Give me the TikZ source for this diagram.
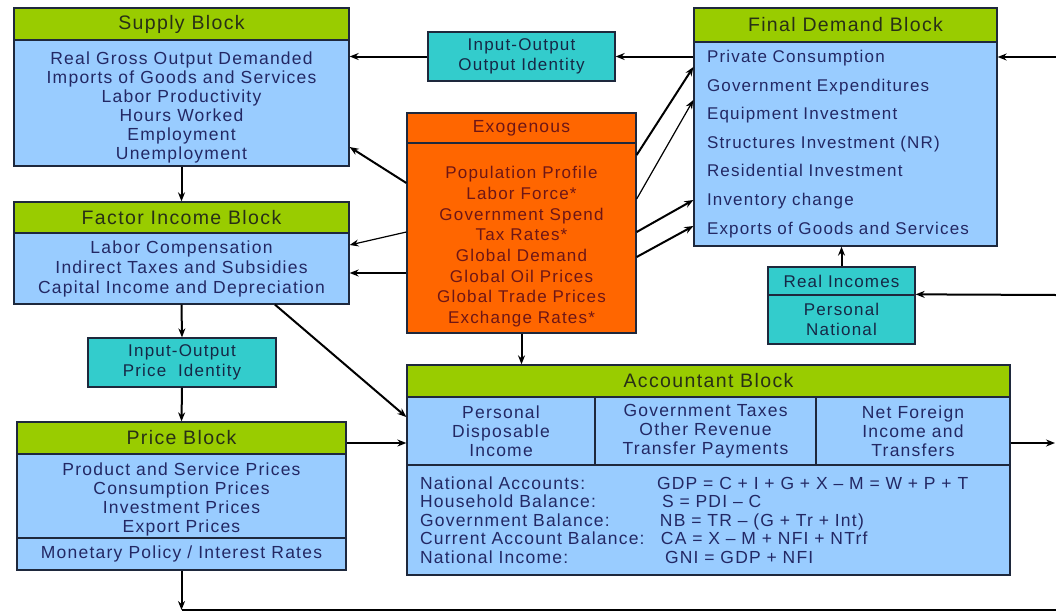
\documentclass[tikz,border=0pt]{standalone}
\usepackage{fontspec}
\setmainfont[LetterSpace=7]{Liberation Sans}
\usetikzlibrary{arrows.meta,calc}
\definecolor{blk_green}{RGB}{153,204,0}
\definecolor{blk_blue}{RGB}{153,204,255}
\definecolor{blk_teal}{RGB}{51,204,204}
\definecolor{blk_orange}{RGB}{255,102,0}
\definecolor{txt_blue}{RGB}{35,40,100}
\definecolor{txt_green}{RGB}{40,48,22}
\definecolor{txt_teal}{RGB}{22,40,70}
\definecolor{txt_red}{RGB}{110,22,22}
\definecolor{blk_edge}{RGB}{30,40,60}
\tikzstyle{box}=[rectangle,draw=blk_edge,line width=1.3pt,inner sep=0pt,align=center]
\tikzstyle{hd}=[box,fill=blk_green,text=txt_green,font=\fontsize{19.5}{21}\selectfont]
\tikzstyle{bd}=[box,fill=blk_blue,text=txt_blue,font=\fontsize{17.5}{19}\selectfont]
\tikzstyle{io}=[box,fill=blk_teal,text=txt_teal,font=\fontsize{17}{19.5}\selectfont]
\tikzstyle{ex}=[box,fill=blk_orange,text=txt_red,font=\fontsize{17}{20.7}\selectfont]
\tikzstyle{arr}=[-{Stealth[length=9pt,width=7pt]},line width=2pt,black]
\tikzstyle{tarr}=[arr,line width=1.2pt]

\begin{document}
\begin{tikzpicture}[x=1pt,y=-1pt]
            \useasboundingbox (0,0) rectangle (1056,613);
            % left column
            \node [style=hd, minimum width=335pt, minimum height=32pt] (suph) at (181.5, 24) {Supply Block};
            \node [style=bd, minimum width=335pt, minimum height=126pt] (supb) at (181.5, 103) {\rule{0pt}{21pt}Real Gross Output Demanded\\Imports of Goods and Services\\Labor Productivity\\Hours Worked\\Employment\\Unemployment};
            \node [style=hd, minimum width=335pt, minimum height=31pt] (fach) at (181.5, 217.5) {Factor Income Block};
            \node [style=bd, minimum width=335pt, minimum height=71pt, font=\fontsize{17.5}{20}\selectfont] (facb) at (181.5, 268.5) {Labor Compensation\\Indirect Taxes and Subsidies\\Capital Income and Depreciation};
            \node [style=io, minimum width=188pt, minimum height=49pt] (iop) at (182, 362.5) {Input-Output\\Price\ \ Identity};
            \node [style=hd, minimum width=329pt, minimum height=32pt] (prih) at (181.5, 438) {Price Block};
            \node [style=bd, minimum width=329pt, minimum height=84pt] (prib) at (181.5, 496) {\rule{0pt}{19pt}Product and Service Prices\\Consumption Prices\\Investment Prices\\Export Prices};
            \node [style=bd, minimum width=329pt, minimum height=32pt] (prim) at (181.5, 554) {Monetary Policy / Interest Rates};
            % middle column
            \node [style=io, minimum width=187pt, minimum height=49pt] (ioo) at (521.5, 56.5) {Input-Output\\Output Identity};
            \node [style=ex, minimum width=229pt, minimum height=30pt, font=\fontsize{17.5}{20}\selectfont] (exoh) at (521.5, 128) {Exogenous};
            \node [style=ex, minimum width=229pt, minimum height=190pt] (exob) at (521.5, 238) {\rule{0pt}{30pt}Population Profile\\Labor Force*\\Government Spend\\Tax Rates*\\Global Demand\\Global Oil Prices\\Global Trade Prices\\Exchange Rates*};
            % right column
            \node [style=hd, minimum width=303pt, minimum height=34pt] (fdh) at (845.5, 25) {Final Demand Block};
            \node [style=bd, inner xsep=13pt, text width=277pt, minimum height=204pt, align=left, font=\fontsize{17}{28.6}\selectfont] (fdb) at (845.5, 144) {Private Consumption\\Government Expenditures\\Equipment Investment\\Structures Investment (NR)\\Residential Investment\\Inventory change\\Exports of Goods and Services};
            \node [style=io, minimum width=147pt, minimum height=28pt] (rih) at (841.5, 281) {Real Incomes};
            \node [style=io, minimum width=147pt, minimum height=49pt] (rib) at (841.5, 319.5) {Personal\\National};
            % accountant block
            \node [style=hd, minimum width=603pt, minimum height=32pt] (acch) at (708.5, 381) {Accountant Block};
            \node [style=bd, minimum width=188pt, minimum height=68pt] (acc1) at (501, 431) {Personal\\Disposable\\Income};
            \node [style=bd, minimum width=221pt, minimum height=68pt] (acc2) at (705.5, 431) {Government Taxes\\Other Revenue\\Transfer Payments};
            \node [style=bd, minimum width=194pt, minimum height=68pt] (acc3) at (913, 431) {Net Foreign\\Income and\\Transfers};
            \node [style=bd, inner xsep=13pt, text width=577pt, minimum height=110pt, align=left, font=\fontsize{17.5}{18.5}\selectfont] (accb) at (708.5, 520) {\makebox[237pt][l]{National Accounts:}GDP = C + I + G + X – M = W + P + T\\
              \makebox[237pt][l]{Household Balance:}\hspace{5pt}S = PDI – C\\
              \makebox[237pt][l]{Government Balance:}\hspace{3pt}NB = TR – (G + Tr + Int)\\
              \makebox[237pt][l]{Current Account Balance:}\hspace{4pt}CA = X – M + NFI + NTrf\\
              \makebox[237pt][l]{National Income:}\hspace{8pt}GNI = GDP + NFI};
            % loose ends at the cut edge
            \coordinate (e1) at (1056, 57);
            \coordinate (e2) at (1056, 295);
            \coordinate (e3) at (1055, 443);
            \coordinate (e4) at (1056, 610);
            % connectors
            \draw [style=arr] (supb.south) to (fach.north);
            \draw [style=arr] (facb.south) to (iop.north);
            \draw [style=arr] (iop.south) to (prih.north);
            \draw [style=arr] (ioo.west) to (supb.east |- ioo.west);
            \draw [style=arr] (fdb.west |- ioo.east) to (ioo.east);
            \draw [style=arr] (e1) to (fdb.east |- e1);
            \draw [style=arr] (e2) to (rib.north east);
            \draw [style=arr] (rih.north) to (fdb.south -| rih.north);
            \draw [style=arr] (exob.west |- 0,183) to (supb.east |- 0,147);
            \draw [style=tarr] (exob.west |- 0,232) to (facb.east |- 0,245);
            \draw [style=arr] (exob.west |- 0,273) to (facb.east |- 0,273);
            \draw [style=arr] (exob.south) to (acch.north -| exob.south);
            \draw [style=arr] (exob.east |- 0,155) to (fdb.west |- 0,67);
            \draw [style=tarr] (exob.east |- 0,199) to (fdb.west |- 0,100);
            \draw [style=arr] (exob.east |- 0,232) to (fdb.west |- 0,200);
            \draw [style=arr] (exob.east |- 0,257) to (fdb.west |- 0,226);
            \draw [style=arr] (275,0 |- facb.south) to (acc1.west |- 0,417);
            \draw [style=arr] (prih.east |- 0,443) to (acc1.west |- 0,443);
            \draw [style=arr] (acc3.east |- 0,443) to (e3);
            \draw [style=arr] (prim.south) to (prim.south |- e4);
            \draw [line width=1.6pt] (prim.south |- e4) to (e4);
    \end{tikzpicture}
\end{document}
